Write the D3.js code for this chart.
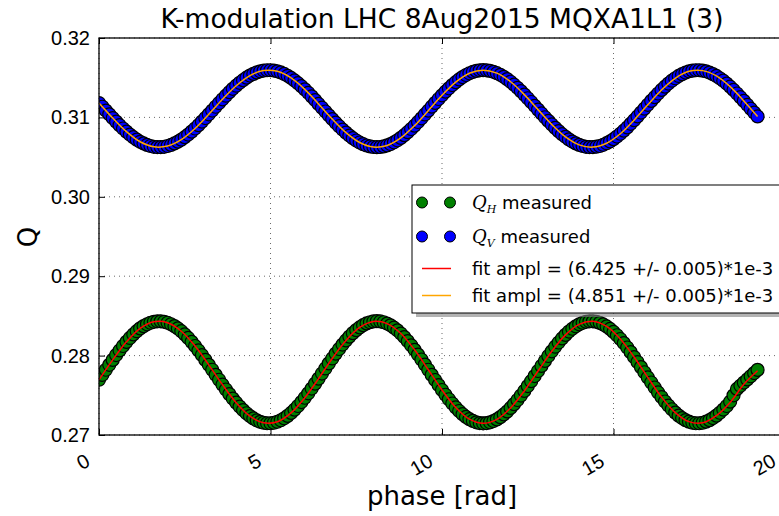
<!DOCTYPE html>
<html><head><meta charset="utf-8">
<script src="https://cdn.jsdelivr.net/npm/d3@7"></script>
<style>body{margin:0;background:#fff} svg{display:block;font-family:"DejaVu Sans",sans-serif}</style>
</head><body><svg id="c" width="779" height="516"></svg>
<script>
const phase=[0.0,0.1,0.2,0.3,0.4,0.5,0.6,0.7,0.8,0.9,1.0,1.1,1.2,1.3,1.4,1.5,1.6,1.7,1.8,1.9,
2.0,2.1,2.2,2.3,2.4,2.5,2.6,2.7,2.8,2.9,3.0,3.1,3.2,3.3,3.4,3.5,3.6,3.7,3.8,3.9,
4.0,4.1,4.2,4.3,4.4,4.5,4.6,4.7,4.8,4.9,5.0,5.1,5.2,5.3,5.4,5.5,5.6,5.7,5.8,5.9,
6.0,6.1,6.2,6.3,6.4,6.5,6.6,6.7,6.8,6.9,7.0,7.1,7.2,7.3,7.4,7.5,7.6,7.7,7.8,7.9,
8.0,8.1,8.2,8.3,8.4,8.5,8.6,8.7,8.8,8.9,9.0,9.1,9.2,9.3,9.4,9.5,9.6,9.7,9.8,9.9,
10.0,10.1,10.2,10.3,10.4,10.5,10.6,10.7,10.8,10.9,11.0,11.1,11.2,11.3,11.4,11.5,11.6,11.7,11.8,11.9,
12.0,12.1,12.2,12.3,12.4,12.5,12.6,12.7,12.8,12.9,13.0,13.1,13.2,13.3,13.4,13.5,13.6,13.7,13.8,13.9,
14.0,14.1,14.2,14.3,14.4,14.5,14.6,14.7,14.8,14.9,15.0,15.1,15.2,15.3,15.4,15.5,15.6,15.7,15.8,15.9,
16.0,16.1,16.2,16.3,16.4,16.5,16.6,16.7,16.8,16.9,17.0,17.1,17.2,17.3,17.4,17.5,17.6,17.7,17.8,17.9,
18.0,18.1,18.2,18.3,18.4,18.5,18.6,18.7,18.8,18.9,19.0,19.1,19.2];
const qV=[0.31181,0.31134,0.31086,0.31039,0.30992,0.30947,0.30902,0.30860,0.30821,0.30784,
0.30751,0.30720,0.30693,0.30672,0.30653,0.30640,0.30630,0.30626,0.30626,0.30630,
0.30640,0.30653,0.30672,0.30694,0.30720,0.30751,0.30784,0.30821,0.30860,0.30902,
0.30947,0.30992,0.31039,0.31086,0.31134,0.31181,0.31228,0.31273,0.31318,0.31360,
0.31399,0.31436,0.31469,0.31500,0.31527,0.31548,0.31567,0.31580,0.31590,0.31594,
0.31594,0.31590,0.31580,0.31566,0.31547,0.31524,0.31497,0.31466,0.31431,0.31393,
0.31353,0.31310,0.31265,0.31218,0.31170,0.31122,0.31074,0.31026,0.30979,0.30933,
0.30889,0.30847,0.30808,0.30771,0.30738,0.30709,0.30684,0.30663,0.30646,0.30635,
0.30627,0.30625,0.30627,0.30635,0.30647,0.30664,0.30686,0.30712,0.30742,0.30776,
0.30814,0.30854,0.30896,0.30942,0.30988,0.31037,0.31085,0.31135,0.31183,0.31232,
0.31278,0.31324,0.31366,0.31407,0.31444,0.31478,0.31508,0.31534,0.31556,0.31573,
0.31585,0.31593,0.31595,0.31593,0.31585,0.31574,0.31557,0.31536,0.31511,0.31482,
0.31449,0.31412,0.31373,0.31331,0.31287,0.31241,0.31194,0.31146,0.31098,0.31050,
0.31002,0.30956,0.30911,0.30868,0.30827,0.30789,0.30755,0.30723,0.30696,0.30673,
0.30654,0.30640,0.30630,0.30626,0.30626,0.30631,0.30640,0.30655,0.30675,0.30698,
0.30726,0.30759,0.30794,0.30833,0.30874,0.30919,0.30965,0.31012,0.31061,0.31110,
0.31159,0.31208,0.31255,0.31301,0.31346,0.31387,0.31426,0.31462,0.31493,0.31522,
0.31545,0.31565,0.31580,0.31589,0.31594,0.31594,0.31589,0.31580,0.31565,0.31545,
0.31522,0.31493,0.31462,0.31426,0.31387,0.31346,0.31301,0.31255,0.31208,0.31159,
0.31110,0.31061,0.31012];
const qH=[0.27696,0.27758,0.27822,0.27884,0.27946,0.28007,0.28065,0.28121,0.28173,0.28222,
0.28267,0.28307,0.28343,0.28371,0.28395,0.28414,0.28426,0.28432,0.28432,0.28426,
0.28414,0.28395,0.28371,0.28342,0.28307,0.28267,0.28222,0.28173,0.28121,0.28065,
0.28007,0.27946,0.27884,0.27822,0.27758,0.27696,0.27634,0.27573,0.27515,0.27459,
0.27407,0.27358,0.27314,0.27274,0.27238,0.27209,0.27185,0.27166,0.27154,0.27148,
0.27148,0.27154,0.27167,0.27186,0.27211,0.27241,0.27278,0.27319,0.27365,0.27415,
0.27469,0.27525,0.27585,0.27647,0.27710,0.27774,0.27838,0.27902,0.27964,0.28025,
0.28083,0.28139,0.28191,0.28239,0.28283,0.28321,0.28355,0.28383,0.28405,0.28420,
0.28430,0.28433,0.28430,0.28420,0.28403,0.28381,0.28352,0.28318,0.28278,0.28233,
0.28183,0.28130,0.28073,0.28013,0.27951,0.27887,0.27822,0.27757,0.27693,0.27629,
0.27567,0.27507,0.27450,0.27397,0.27347,0.27302,0.27262,0.27228,0.27199,0.27177,
0.27160,0.27150,0.27147,0.27150,0.27160,0.27176,0.27197,0.27225,0.27259,0.27297,
0.27341,0.27389,0.27441,0.27497,0.27555,0.27616,0.27678,0.27742,0.27806,0.27870,
0.27933,0.27995,0.28054,0.28112,0.28165,0.28216,0.28261,0.28303,0.28338,0.28369,
0.28394,0.28413,0.28426,0.28432,0.28432,0.28426,0.28412,0.28393,0.28367,0.28336,
0.28298,0.28256,0.28209,0.28158,0.28102,0.28044,0.27982,0.27919,0.27855,0.27790,
0.27725,0.27661,0.27598,0.27536,0.27478,0.27422,0.27371,0.27324,0.27282,0.27244,
0.27213,0.27187,0.27168,0.27154,0.27148,0.27148,0.27154,0.27168,0.27187,0.27213,
0.27244,0.27280,0.27320,0.27365,0.27420,0.27500,0.27580,0.27620,0.27660,0.27700,
0.27740,0.27780,0.27820];
const fitPhase=[0,0.4,0.8,1.2,1.6,2.0,2.4,2.8,3.2,3.6,4.0,4.4,4.8,5.2,5.6,6.0,6.4,6.8,7.2,7.6,8.0,8.4,8.8,9.2,9.6,10.0,10.4,10.8,11.2,11.6,12.0,12.4,12.8,13.2,13.6,14.0,14.4,14.8,15.2,15.6,16.0,16.4,16.8,17.2,17.6,18.0,18.4,18.8,19.2];
const fitV=[0.31181,0.30992,0.30821,0.30693,0.30630,0.30640,0.30720,0.30860,0.31039,0.31228,0.31399,0.31527,0.31590,0.31580,0.31497,0.31353,0.31170,0.30979,0.30808,0.30684,0.30627,0.30647,0.30742,0.30896,0.31085,0.31278,0.31444,0.31556,0.31595,0.31557,0.31449,0.31287,0.31098,0.30911,0.30755,0.30654,0.30626,0.30675,0.30794,0.30965,0.31159,0.31346,0.31493,0.31580,0.31589,0.31522,0.31387,0.31208,0.31012];
const fitH=[0.27696,0.27946,0.28173,0.28343,0.28426,0.28414,0.28307,0.28121,0.27884,0.27634,0.27407,0.27238,0.27154,0.27167,0.27278,0.27469,0.27710,0.27964,0.28191,0.28355,0.28430,0.28403,0.28278,0.28073,0.27822,0.27567,0.27347,0.27199,0.27147,0.27197,0.27341,0.27555,0.27806,0.28054,0.28261,0.28394,0.28432,0.28367,0.28209,0.27982,0.27725,0.27478,0.27282,0.27168,0.27154,0.27244,0.27410,0.27640,0.27810];
const xTicks=[0,5,10,15,20];
const yTicks=[0.27,0.28,0.29,0.30,0.31,0.32];
const titleText="K-modulation LHC 8Aug2015 MQXA1L1 (3)";
const xLabel="phase [rad]", yLabel="Q";
const fitLabels=["fit ampl = (6.425 +/- 0.005)*1e-3","fit ampl = (4.851 +/- 0.005)*1e-3"];

(function(){
const svg=d3.select("#c");
const L=99,T=38,R=785,B=435;
const x=d3.scaleLinear().domain([0,20]).range([L,R]);
const y=d3.scaleLinear().domain([0.27,0.32]).range([B,T]);

svg.append("defs").append("clipPath").attr("id","clip").append("rect")
  .attr("x",L).attr("y",T).attr("width",R-L).attr("height",B-T);

const grid=svg.append("g").attr("stroke","#444").attr("stroke-width",0.8).attr("stroke-dasharray","1,4");
xTicks.forEach(v=>grid.append("line").attr("x1",x(v)).attr("x2",x(v)).attr("y1",T).attr("y2",B));
yTicks.forEach(v=>grid.append("line").attr("x1",L).attr("x2",R).attr("y1",y(v)).attr("y2",y(v)));

const plot=svg.append("g").attr("clip-path","url(#clip)");
const ptsH=phase.map((p,i)=>[p,qH[i]]);
const ptsV=phase.map((p,i)=>[p,qV[i]]);
plot.append("g").selectAll("circle").data(ptsH).join("circle")
  .attr("cx",d=>x(d[0])).attr("cy",d=>y(d[1])).attr("r",6.5)
  .attr("fill","#008000").attr("stroke","#000").attr("stroke-width",1.2);
plot.append("g").selectAll("circle").data(ptsV).join("circle")
  .attr("cx",d=>x(d[0])).attr("cy",d=>y(d[1])).attr("r",6.5)
  .attr("fill","#0000ff").attr("stroke","#000").attr("stroke-width",1.2);
const line=d3.line().x(d=>x(d[0])).y(d=>y(d[1])).curve(d3.curveCatmullRom);
plot.append("path").datum(fitPhase.map((p,i)=>[p,fitH[i]])).attr("d",line)
  .attr("fill","none").attr("stroke","#ff0000").attr("stroke-width",1.5);
plot.append("path").datum(fitPhase.map((p,i)=>[p,fitV[i]])).attr("d",line)
  .attr("fill","none").attr("stroke","#ffa500").attr("stroke-width",1.5);

const ax=svg.append("g").attr("font-family","DejaVu Sans");
const gLeft=ax.append("g").attr("transform",`translate(${L},0)`)
  .call(d3.axisLeft(y).tickValues(yTicks).tickFormat(d3.format(".2f")).tickSizeInner(-6).tickSizeOuter(0).tickPadding(9));
gLeft.select(".domain").remove();
gLeft.selectAll("text").attr("font-size",20).attr("fill","#000");
const gRight=ax.append("g").attr("transform",`translate(${R},0)`)
  .call(d3.axisRight(y).tickValues(yTicks).tickFormat("").tickSizeInner(-6).tickSizeOuter(0));
gRight.select(".domain").remove();
const gTop=ax.append("g").attr("transform",`translate(0,${T})`)
  .call(d3.axisTop(x).tickValues(xTicks).tickFormat("").tickSizeInner(-6).tickSizeOuter(0));
gTop.select(".domain").remove();
const gBot=ax.append("g").attr("transform",`translate(0,${B})`)
  .call(d3.axisBottom(x).tickValues(xTicks).tickFormat(d3.format("d")).tickSizeInner(-6).tickSizeOuter(0));
gBot.select(".domain").remove();
gBot.selectAll("text").attr("font-size",20).attr("fill","#000")
  .attr("text-anchor","end").attr("dy",null).attr("y",null)
  .attr("transform","translate(-8,30) rotate(-30)");
ax.selectAll("line").attr("stroke","#000");

svg.append("rect").attr("x",L).attr("y",T).attr("width",R-L).attr("height",B-T)
  .attr("fill","none").attr("stroke","#000").attr("stroke-width",1.3);

svg.append("text").attr("x",(L+R)/2).attr("y",28).attr("text-anchor","middle")
  .attr("font-size",26.5).text(titleText);
svg.append("text").attr("x",(L+R)/2).attr("y",505).attr("text-anchor","middle")
  .attr("font-size",26).text(xLabel);
svg.append("text").attr("transform","translate(37,237) rotate(-90)").attr("text-anchor","middle")
  .attr("font-size",26).text(yLabel);

const lg=svg.append("g");
const lx=412, ly=185, lh=128;
lg.append("rect").attr("x",lx+4).attr("y",ly+4).attr("width",420).attr("height",lh).attr("fill","#808080").attr("opacity",0.6);
lg.append("rect").attr("x",lx).attr("y",ly).attr("width",420).attr("height",lh).attr("fill","#fff").attr("stroke","#000").attr("stroke-width",1);
const rows=[202.5,236.5,268.5,295.5];
[["#008000","H"],["#0000ff","V"]].forEach((m,i)=>{
  [422,450].forEach(cx=>lg.append("circle").attr("cx",cx).attr("cy",rows[i]).attr("r",5.5)
    .attr("fill",m[0]).attr("stroke","#000").attr("stroke-width",1));
  const t=lg.append("text").attr("x",472).attr("y",rows[i]+6).attr("font-size",18);
  t.append("tspan").attr("font-family","DejaVu Serif").attr("font-style","italic").text("Q");
  t.append("tspan").attr("font-family","DejaVu Serif").attr("font-style","italic").attr("font-size",11).attr("dy",4).text(m[1]);
  t.append("tspan").attr("dy",-4).text(" measured");
});
["#ff0000","#ffa500"].forEach((c,i)=>{
  lg.append("line").attr("x1",422).attr("x2",451).attr("y1",rows[i+2]).attr("y2",rows[i+2]).attr("stroke",c).attr("stroke-width",1.5);
  lg.append("text").attr("x",472).attr("y",rows[i+2]+6).attr("font-size",18).text(fitLabels[i]);
});
})();
</script></body></html>
